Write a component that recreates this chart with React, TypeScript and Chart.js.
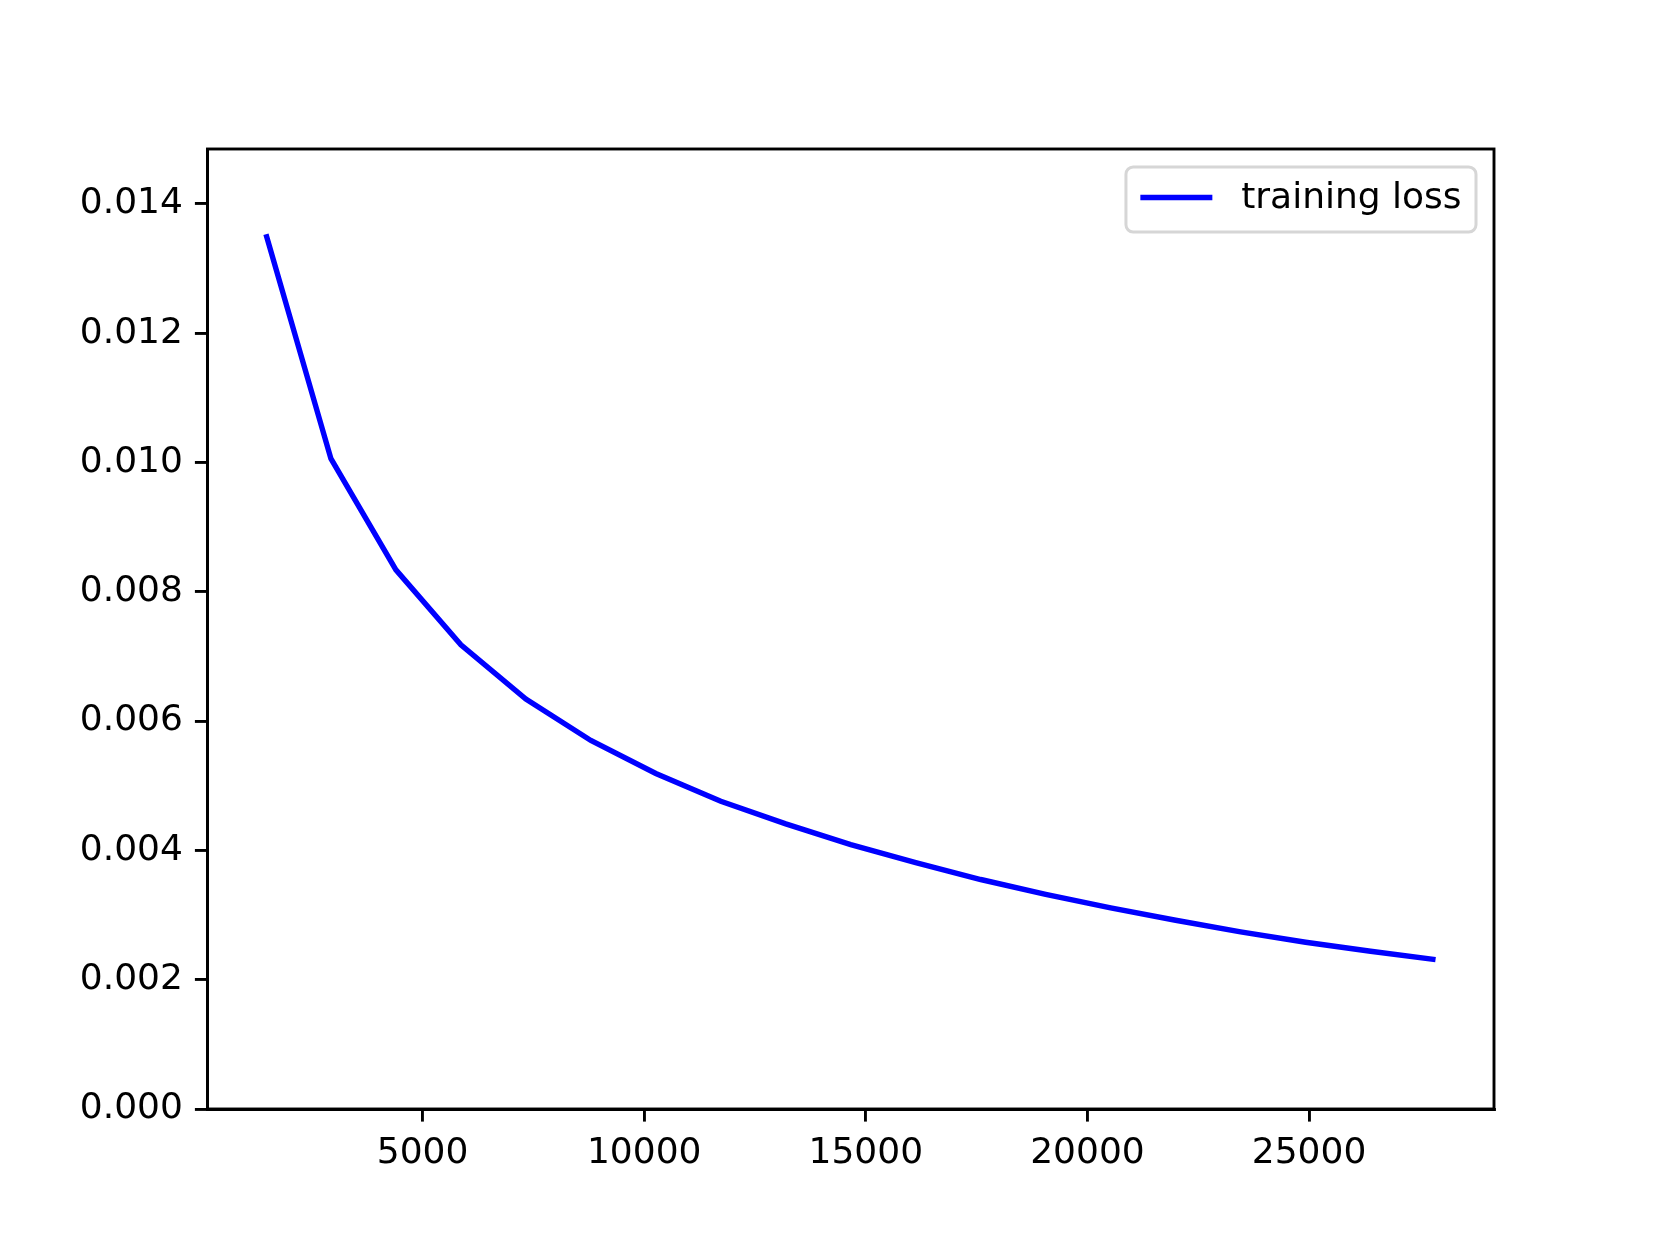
import React, { useEffect, useRef } from "react";
import { Chart, registerables } from "chart.js";

Chart.register(...registerables);

const iterations = [1466, 2932, 4398, 5864, 7330, 8796, 10262, 11728, 13194, 14660, 16126, 17592, 19058, 20524, 21990, 23456, 24922, 26388, 27854];
const trainingLoss = [0.01353, 0.01006, 0.00834, 0.00718, 0.00634, 0.0057, 0.00519, 0.00476, 0.00441, 0.00409, 0.00381, 0.00355, 0.00332, 0.00311, 0.00292, 0.00274, 0.00258, 0.00244, 0.00231];
const xTicks = [5000, 10000, 15000, 20000, 25000];
const yTicks = [0, 0.002, 0.004, 0.006, 0.008, 0.01, 0.012, 0.014];
const seriesLabel = "training loss";

const FONT = "DejaVu Sans";
const FS = 36;

const framePlugin = {
  id: "frameAndLegend",
  afterDraw(chart: any) {
    const { ctx, chartArea } = chart;
    const { left, right, top, bottom } = chartArea;
    ctx.save();
    ctx.strokeStyle = "#000";
    ctx.lineWidth = 2.9;
    ctx.strokeRect(left, top, right - left, bottom - top);

    ctx.font = `${FS}px "${FONT}"`;
    const tw = ctx.measureText(seriesLabel).width;
    const pad = 0.4 * FS;
    const handle = 2 * FS;
    const htp = 0.8 * FS;
    const bw = pad + handle + htp + tw + pad;
    const bh = 65;
    const bx = right - 0.5 * FS - bw;
    const by = top + 0.5 * FS;
    const r = 0.2 * FS;
    ctx.beginPath();
    ctx.moveTo(bx + r, by);
    ctx.lineTo(bx + bw - r, by);
    ctx.arcTo(bx + bw, by, bx + bw, by + r, r);
    ctx.lineTo(bx + bw, by + bh - r);
    ctx.arcTo(bx + bw, by + bh, bx + bw - r, by + bh, r);
    ctx.lineTo(bx + r, by + bh);
    ctx.arcTo(bx, by + bh, bx, by + bh - r, r);
    ctx.lineTo(bx, by + r);
    ctx.arcTo(bx, by, bx + r, by, r);
    ctx.closePath();
    ctx.fillStyle = "rgba(255,255,255,0.8)";
    ctx.fill();
    ctx.strokeStyle = "#d6d6d6";
    ctx.lineWidth = 3;
    ctx.stroke();

    const cy = by + bh / 2 - 2;
    ctx.beginPath();
    ctx.moveTo(bx + pad, cy);
    ctx.lineTo(bx + pad + handle, cy);
    ctx.strokeStyle = "#0000ff";
    ctx.lineWidth = 5.4;
    ctx.stroke();

    ctx.fillStyle = "#000";
    ctx.textBaseline = "middle";
    ctx.textAlign = "left";
    ctx.fillText(seriesLabel, bx + pad + handle + htp, cy + 1);
    ctx.restore();
  },
};

export default function App() {
  const ref = useRef<HTMLCanvasElement>(null);

  useEffect(() => {
    if (!ref.current) return;
    const points = iterations.map((x, i) => ({ x, y: trainingLoss[i] }));
    const chart = new Chart(ref.current, {
      type: "line",
      data: {
        datasets: [
          {
            label: seriesLabel,
            data: points,
            borderColor: "#0000ff",
            borderWidth: 5.4,
            pointRadius: 0,
            tension: 0,
            fill: false,
          },
        ],
      },
      options: {
        animation: false,
        responsive: false,
        devicePixelRatio: 1,
        layout: { padding: { left: 47.5, right: 166, top: 149, bottom: 56 } },
        plugins: { legend: { display: false }, tooltip: { enabled: false } },
        scales: {
          x: {
            type: "linear",
            min: 147,
            max: 29173,
            afterBuildTicks: (s: any) => {
              s.ticks = xTicks.map((v) => ({ value: v }));
            },
            afterFit: (s: any) => {
              s.height = 80;
            },
            ticks: {
              font: { family: FONT, size: FS },
              color: "#000",
              padding: 10,
              maxRotation: 0,
              autoSkip: false,
              callback: (v: any) => String(v),
            },
            grid: { drawOnChartArea: false, tickLength: 12.6, color: "#000", lineWidth: 2.9 },
            border: { display: true, color: "#000", width: 2.9 },
          },
          y: {
            type: "linear",
            min: 0,
            max: 0.01485,
            afterBuildTicks: (s: any) => {
              s.ticks = yTicks.map((v) => ({ value: v }));
            },
            afterFit: (s: any) => {
              s.width = 160;
            },
            ticks: {
              font: { family: FONT, size: FS },
              color: "#000",
              padding: 12,
              autoSkip: false,
              callback: (v: any) => Number(v).toFixed(3),
            },
            grid: { drawOnChartArea: false, tickLength: 12.6, color: "#000", lineWidth: 2.9 },
            border: { display: true, color: "#000", width: 2.9 },
          },
        },
      },
      plugins: [framePlugin],
    } as any);
    return () => chart.destroy();
  }, []);

  return (
    <div style={{ position: "absolute", left: 0, top: 0, width: 1660, height: 1245, background: "#fff" }}>
      <canvas ref={ref} width={1660} height={1245} style={{ width: 1660, height: 1245, display: "block" }} />
    </div>
  );
}
